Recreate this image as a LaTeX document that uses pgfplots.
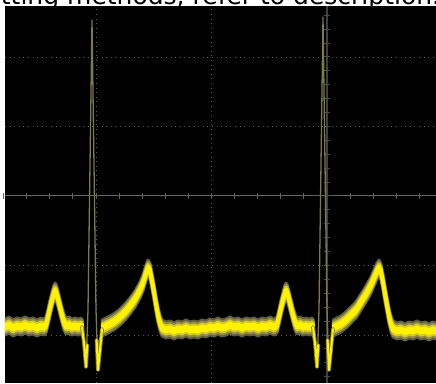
\documentclass[border=0pt]{standalone}
\usepackage{pgfplots}
\pgfplotsset{compat=1.18}
\usepackage{pgfplotstable}
\usepackage{fontspec}
\setmainfont{DejaVu Sans}

% trace: x = pixel column, y = pixel row (downwards)
\pgfplotstableread{
x y
5 327
9 325
13 328
17 326
21 327
25 325
29 327
33 326
37 328
41 326
44 327
46 325
48 317
50 308
52 300
54 293
55 291
56 292
58 299
60 307
62 315
64 322
66 326
69 325
72 327
75 326
78 327
81 326
83 329
nan nan
102 328
106 326
110 324
115 321
120 317
125 312
130 306
135 299
140 290
143 283
146 273
148 268
150 271
152 281
154 292
156 304
158 315
160 323
162 328
166 330
170 329
174 331
178 329
182 330
186 328
190 330
194 329
198 330
202 328
206 329
210 327
214 328
218 326
222 328
226 327
230 325
234 327
238 326
242 328
246 326
250 327
254 326
258 328
262 326
266 327
270 325
274 327
277 325
279 317
281 308
283 300
285 293
286 291
287 292
289 299
291 307
293 315
295 322
297 326
300 325
303 327
306 326
309 327
312 326
314 329
nan nan
333 328
337 326
341 324
346 320
351 315
356 310
361 302
366 294
371 285
374 278
377 271
379 268
381 272
383 282
385 294
387 305
389 316
391 324
393 329
397 331
401 330
405 332
409 330
413 331
417 329
421 331
425 330
429 332
433 330
436 331
}\slowtrace

\pgfplotstableread{
x y
82 327
84 343
86 367
87.2 345
nan nan
96.6 340
98 370
100 350
102 329
nan nan
313 327
315 343
317 367
318.2 345
nan nan
327.6 340
329 370
331 350
333 329
}\dips

\pgfplotstableread{
x y
86 367
88 310
92 20
96 310
98 370
nan nan
317 367
319 310
323 17
327 310
329 370
}\spikes

\newcommand{\glow}[2]{%
  \addplot[draw=#2, line width=3pt, line join=round, line cap=round, unbounded coords=jump]
    table[x=x, y expr=\thisrow{y}+#1] {\slowtrace};}

\begin{document}
\begin{tikzpicture}[x=1pt,y=1pt]
\useasboundingbox (0,0) rectangle (436,383);
\clip (0,0) rectangle (436,383);
\fill[white] (0,0) rectangle (436,383);
\node[anchor=base west, inner sep=0pt, font=\fontsize{25}{29}\selectfont] at (-30.5,378) {Setting methods, refer to description.};
\fill[black] (5,0) rectangle (436,377);
% dotted grid
\foreach \gx in {96,211.5} \draw[color=black!65, line width=0.8pt, dash pattern=on 1pt off 3.6pt] (\gx,0) -- (\gx,377);
\foreach \gy in {57,126.5,265.5,335} \draw[color=black!65, line width=0.8pt, dash pattern=on 1pt off 3.6pt] (5,{383-\gy}) -- (436,{383-\gy});
% centre axes with ticks
\draw[color=black!62, line width=1pt] (5,187) -- (436,187);
\foreach \k in {-14,...,4} \draw[color=black!62, line width=1pt] ({327+23.1*\k},184) -- ++(0,6);
\draw[color=black!75, line width=1.4pt] (327,0) -- (327,377);
\foreach \k in {-13,...,13} \draw[color=black!70, line width=1pt] (324,{187+13.9*\k}) -- ++(6,0);
\begin{axis}[at={(5,0)}, anchor=south west, scale only axis, width=431pt, height=377pt,
  xmin=5, xmax=436, ymin=6, ymax=383, y dir=reverse, axis lines=none, clip=true,
  unbounded coords=jump]
\glow{8}{yellow!28!black}
\glow{-8}{yellow!28!black}
\glow{6}{yellow!50!black}
\glow{-6}{yellow!50!black}
\glow{4}{yellow!80!black}
\glow{-4}{yellow!80!black}
\glow{2}{yellow}
\glow{-2}{yellow}
\glow{0}{yellow}
\addplot[draw=yellow!42!black, line width=1.3pt, line join=round] table[x=x,y=y] {\spikes};
\addplot[draw=yellow!45!black, line width=3.8pt, line join=round, line cap=round] table[x=x,y=y] {\dips};
\addplot[draw=yellow, line width=2pt, line join=round, line cap=round] table[x=x,y=y] {\dips};
\end{axis}
\end{tikzpicture}
\end{document}
